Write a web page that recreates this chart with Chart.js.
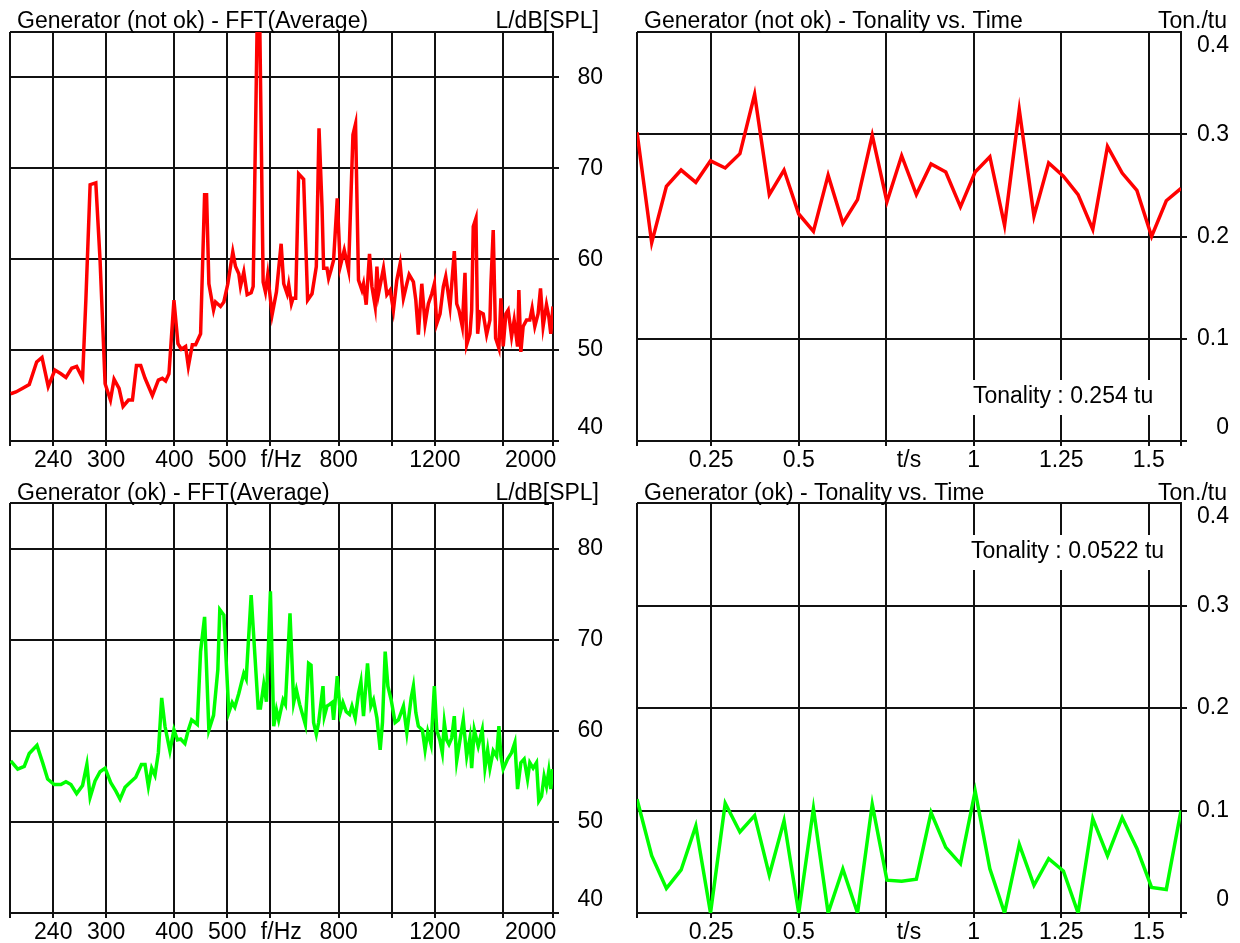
<!DOCTYPE html>
<html>
<head>
<meta charset="utf-8">
<title>Generator - FFT and Tonality</title>
<script src="https://cdn.jsdelivr.net/npm/chart.js@4.4.1/dist/chart.umd.min.js"></script>
<style>
  html, body { margin: 0; padding: 0; background: #fff; }
  #wrap { position: relative; width: 1240px; height: 943px; }
  canvas { position: absolute; }
</style>
</head>
<body>
<div id="wrap">
  <canvas id="fftNotOk" width="620" height="470" style="left:0;top:0"></canvas>
  <canvas id="tonNotOk" width="620" height="470" style="left:620px;top:0"></canvas>
  <canvas id="fftOk" width="620" height="473" style="left:0;top:470px"></canvas>
  <canvas id="tonOk" width="620" height="473" style="left:620px;top:470px"></canvas>
</div>
<script>
// --- FFT (Average), generator not ok: frequency in Hz, level in dB[SPL]
const fftFreqNotOk = [200.6, 205.1, 211.0, 216.9, 223.8, 228.9, 235.0, 241.7, 247.9, 253.2,
  259.4, 264.9, 271.6, 275.4, 280.4, 287.2, 292.4, 298.7, 305.5, 310.2,
  316.8, 322.2, 329.6, 335.2, 340.9, 347.1, 353.5, 364.6, 373.9, 380.3,
  385.6, 391.0, 399.3, 406.1, 411.9, 419.4, 424.3, 431.5, 437.5, 446.8,
  454.4, 458.2, 462.7, 471.9, 475.9, 486.0, 492.8, 501.2, 511.8, 517.7,
  524.9, 528.7, 536.1, 543.8, 553.0, 557.7, 567.2, 573.4, 581.7, 587.3,
  593.0, 604.1, 615.2, 627.5, 634.4, 643.5, 647.8, 655.3, 659.9, 667.2,
  675.6, 690.0, 701.7, 714.8, 727.9, 736.2, 745.6, 750.7, 761.4, 766.6,
  774.4, 782.9, 795.1, 805.2, 818.9, 833.9, 849.5, 858.9, 869.6, 882.2,
  888.2, 898.3, 910.9, 920.2, 933.0, 939.8, 946.1, 966.2, 980.1, 993.8,
  1007.7, 1022.2, 1036.5, 1051.0, 1066.2, 1076.6, 1096.2, 1107.4, 1119.4, 1135.6,
  1151.5, 1167.6, 1184.5, 1197.5, 1209.6, 1226.5, 1243.7, 1256.3, 1266.9, 1279.2,
  1302.6, 1315.8, 1328.6, 1347.1, 1362.6, 1372.5, 1391.5, 1401.5, 1411.0, 1427.1,
  1437.4, 1451.3, 1471.6, 1492.8, 1513.7, 1520.1, 1534.9, 1550.5, 1572.1, 1585.4,
  1600.8, 1619.1, 1634.8, 1658.5, 1676.7, 1700.8, 1710.1, 1724.5, 1741.3, 1766.4,
  1791.1, 1808.5, 1829.2, 1854.7, 1873.7, 1894.3, 1921.5, 1940.2, 1956.6, 1975.0];
const fftLevelNotOk = [45.2, 45.4, 45.8, 46.2, 48.7, 49.2, 46.0, 47.8, 47.4, 47.0,
  48.0, 48.2, 46.9, 55.5, 68.2, 68.4, 59.9, 46.3, 44.5, 46.8,
  45.8, 43.8, 44.5, 44.5, 48.3, 48.3, 46.9, 45.0, 46.7, 46.9,
  46.6, 47.4, 55.5, 50.7, 50.1, 50.4, 48.2, 50.6, 50.6, 51.8,
  67.1, 67.1, 57.3, 54.4, 55.3, 54.8, 55.3, 57.3, 60.8, 59.2,
  58.4, 57.0, 58.6, 56.1, 56.3, 57.0, 86.0, 86.0, 57.5, 56.4,
  58.3, 53.9, 56.4, 61.7, 57.3, 56.2, 57.2, 55.1, 55.7, 55.7,
  69.4, 68.8, 55.5, 56.2, 59.2, 74.4, 65.8, 59.0, 59.0, 57.9,
  58.8, 59.9, 66.7, 59.2, 61.0, 58.8, 73.7, 74.9, 57.7, 56.6,
  57.3, 55.0, 60.6, 57.0, 54.8, 59.2, 56.2, 59.0, 56.1, 56.6,
  54.4, 57.7, 59.5, 55.7, 57.3, 58.3, 57.5, 55.5, 51.7, 57.3,
  52.9, 55.1, 56.2, 57.3, 52.9, 54.0, 57.0, 58.1, 56.6, 54.8,
  60.9, 55.1, 54.4, 52.6, 58.5, 50.6, 51.8, 54.4, 63.6, 64.5,
  51.8, 54.2, 54.0, 51.7, 53.3, 57.3, 63.2, 51.3, 50.2, 55.7,
  50.4, 54.0, 54.4, 51.5, 53.3, 50.4, 56.6, 49.8, 52.6, 53.3,
  53.3, 54.6, 52.6, 54.0, 56.8, 52.6, 55.0, 53.7, 51.8, 54.8];

// --- FFT (Average), generator ok
const fftFreqOk = [200.6, 206.6, 212.4, 216.9, 224.1, 229.5, 234.4, 241.0, 247.9, 253.2,
  258.6, 264.9, 271.6, 276.6, 280.4, 286.3, 292.4, 298.7, 305.9, 312.4,
  318.1, 324.9, 331.4, 339.9, 348.1, 353.5, 358.5, 363.5, 368.6, 373.9,
  379.2, 384.5, 392.6, 399.3, 405.1, 410.7, 418.2, 424.3, 430.2, 434.4,
  440.6, 446.8, 454.4, 462.7, 471.9, 480.5, 484.5, 492.8, 503.3, 510.5,
  516.2, 524.9, 536.1, 541.5, 553.0, 569.6, 575.1, 583.2, 589.8, 599.8,
  608.2, 615.2, 621.1, 632.7, 638.9, 651.4, 661.6, 669.2, 678.5, 695.0,
  704.6, 711.8, 719.6, 727.9, 735.0, 748.7, 752.9, 761.4, 769.8, 777.7,
  782.9, 795.1, 805.2, 814.4, 825.8, 837.4, 845.9, 857.8, 869.6, 878.5,
  888.2, 903.3, 916.3, 926.4, 939.8, 952.9, 962.1, 973.2, 984.3, 998.0,
  1014.9, 1029.1, 1040.9, 1051.0, 1066.2, 1085.7, 1096.2, 1107.4, 1119.4, 1138.4,
  1151.5, 1164.7, 1181.0, 1197.5, 1209.6, 1226.5, 1238.4, 1248.9, 1261.5, 1273.8,
  1288.4, 1302.6, 1315.8, 1334.2, 1352.9, 1372.5, 1391.5, 1401.5, 1417.0, 1440.9,
  1465.4, 1482.2, 1499.2, 1513.7, 1534.9, 1557.1, 1572.1, 1585.4, 1600.8, 1630.8,
  1658.5, 1681.6, 1700.8, 1724.5, 1748.7, 1773.9, 1791.1, 1816.2, 1842.3, 1860.2,
  1881.6, 1902.3, 1921.5, 1940.2, 1956.6, 1970.6];
const fftLevelOk = [56.7, 55.8, 56.1, 57.5, 58.4, 56.5, 54.7, 54.1, 54.1, 54.4,
  54.1, 53.1, 54.0, 56.3, 52.7, 54.5, 55.5, 55.9, 54.3, 53.4,
  52.5, 53.8, 54.3, 54.9, 56.3, 56.3, 53.9, 55.9, 55.1, 57.6,
  63.6, 60.5, 57.8, 60.1, 59.0, 59.1, 58.6, 60.1, 61.2, 61.0,
  60.7, 68.7, 72.5, 60.1, 61.7, 66.7, 73.3, 72.7, 62.0, 63.1,
  62.6, 64.1, 66.3, 65.7, 74.9, 62.5, 62.5, 65.1, 63.2, 75.3,
  60.5, 62.3, 61.2, 63.4, 62.9, 72.9, 63.1, 64.5, 62.9, 60.7,
  67.4, 67.2, 60.9, 59.6, 60.9, 64.9, 61.6, 62.7, 62.9, 63.1,
  61.2, 66.0, 62.0, 63.1, 62.1, 61.8, 62.7, 61.4, 64.1, 65.4,
  61.6, 67.4, 62.7, 63.4, 61.4, 57.9, 60.9, 68.7, 64.9, 63.4,
  60.9, 61.2, 62.0, 62.7, 59.8, 63.6, 64.9, 62.0, 60.5, 60.1,
  57.9, 59.9, 58.5, 64.9, 60.1, 58.9, 57.6, 60.9, 59.0, 58.5,
  59.2, 61.6, 56.7, 59.0, 61.2, 57.2, 59.2, 55.9, 60.1, 58.3,
  60.1, 55.9, 57.9, 55.9, 57.8, 57.2, 60.5, 57.2, 55.8, 56.9,
  57.6, 58.7, 53.6, 56.5, 56.9, 54.7, 56.5, 55.9, 56.5, 52.3,
  52.8, 55.0, 53.9, 55.6, 53.6, 55.8];

// --- Tonality vs. time (s, tu)
const tonTime = [0.038, 0.080, 0.122, 0.164, 0.206, 0.248, 0.290, 0.332, 0.374, 0.416,
  0.458, 0.500, 0.542, 0.584, 0.626, 0.668, 0.710, 0.752, 0.794, 0.836,
  0.878, 0.920, 0.962, 1.004, 1.046, 1.088, 1.130, 1.172, 1.214, 1.256,
  1.298, 1.340, 1.382, 1.424, 1.466, 1.508, 1.550, 1.592];
const tonNotOk = [0.302, 0.194, 0.249, 0.265, 0.253, 0.274, 0.267, 0.281, 0.339, 0.241,
  0.265, 0.222, 0.205, 0.260, 0.213, 0.236, 0.299, 0.234, 0.279, 0.241,
  0.271, 0.263, 0.229, 0.263, 0.278, 0.211, 0.324, 0.220, 0.272, 0.259,
  0.241, 0.207, 0.288, 0.262, 0.245, 0.200, 0.235, 0.247];
const tonOk = [0.111, 0.056, 0.024, 0.042, 0.085, 0.000, 0.107, 0.079, 0.095, 0.037,
  0.090, 0.000, 0.102, 0.000, 0.043, 0.000, 0.106, 0.032, 0.031, 0.033,
  0.098, 0.064, 0.048, 0.119, 0.043, 0.000, 0.067, 0.027, 0.053, 0.041,
  0.000, 0.092, 0.056, 0.093, 0.063, 0.025, 0.023, 0.100];

// --- axis ticks and labels
const fftTickValues = [200, 240, 300, 400, 500, 600, 628, 800, 1000, 1200, 1600, 1975];
const fftTickLabels = ['', '240', '300', '400', '500', '', 'f/Hz', '800', '', '1200', '', '2000       '];
const fftLabelOnly = [628];
const levelTickValues = [40, 50, 60, 70, 80, 85];
const levelTickLabels = ['40', '50', '60', '70', '80', ''];
const timeTickValues = [0.038, 0.25, 0.5, 0.75, 0.815, 1, 1.25, 1.5, 1.592];
const timeTickLabels = ['', '0.25', '0.5', '', 't/s', '1', '1.25', '1.5', ''];
const timeLabelOnly = [0.815];
const tonTickValues = [0, 0.1, 0.2, 0.3, 0.4];
const tonTickLabels = ['0', '0.1', '0.2', '0.3', '0.4'];

const RED = '#ff0000';
const GREEN = '#00ff00';
const BLACK = '#111';
const CLEAR = 'rgba(0,0,0,0)';
const FONT = '23px "Liberation Sans", Arial, sans-serif';

Chart.defaults.font.family = '"Liberation Sans", Arial, sans-serif';
Chart.defaults.font.size = 23;
Chart.defaults.color = '#000';

// titles, unit and the tonality box
const panelText = {
    id: 'panelText',
    beforeDatasetsDraw(chart, args, o) {
        if (!o.note) return;
        const ctx = chart.ctx;
        ctx.save();
        ctx.font = FONT;
        const w = ctx.measureText(o.note).width;
        ctx.fillStyle = '#fff';
        ctx.fillRect(o.noteX - 3, o.noteY - 17, w + 6, 35);
        ctx.fillStyle = '#000';
        ctx.textBaseline = 'middle';
        ctx.textAlign = 'left';
        ctx.fillText(o.note, o.noteX, o.noteY);
        ctx.restore();
    },
    afterDraw(chart, args, o) {
        const ctx = chart.ctx;
        ctx.save();
        ctx.font = FONT;
        ctx.fillStyle = '#000';
        ctx.textBaseline = 'alphabetic';
        ctx.textAlign = 'left';
        ctx.fillText(o.title, o.titleX, o.titleY);
        ctx.textAlign = 'right';
        ctx.fillText(o.unit, o.unitX, o.titleY);
        ctx.restore();
    }
};

const makePanel = (id, p) => {
    const canvas = document.getElementById(id);
    const points = p.xs.map((x, i) => ({ x: x, y: p.ys[i] }));
    const yLast = p.yTicks.length - 1;
    const yMax = p.yTicks[yLast];
    const labelOnly = (c) => c.tick && p.xLabelOnly.includes(c.tick.value);

    return new Chart(canvas, {
        type: 'line',
        data: {
            datasets: [{
                data: points,
                borderColor: p.color,
                borderWidth: 3.5,
                pointRadius: 0,
                tension: 0,
                fill: false
            }]
        },
        options: {
            responsive: false,
            animation: false,
            devicePixelRatio: 1,
            events: [],
            // labels on the right are right-aligned at the canvas edge minus this padding
            layout: { padding: { left: p.padLeft, top: p.padTop, right: canvas.width - p.labelRight, bottom: 0 } },
            plugins: {
                legend: { display: false },
                tooltip: { enabled: false },
                panelText: p.text
            },
            scales: {
                x: {
                    type: p.xType,
                    min: p.xTicks[0],
                    max: p.xTicks[p.xTicks.length - 1],
                    afterBuildTicks: (s) => { s.ticks = p.xTicks.map(v => ({ value: v })); },
                    afterFit: (s) => { s.height = canvas.height - p.plotBottom; },
                    grid: {
                        color: (c) => labelOnly(c) ? CLEAR : BLACK,
                        tickColor: (c) => labelOnly(c) ? CLEAR : BLACK,
                        lineWidth: 2,
                        tickLength: 5
                    },
                    border: { color: BLACK, width: 2 },
                    ticks: {
                        autoSkip: false,
                        maxRotation: 0,
                        minRotation: 0,
                        padding: 1,
                        font: { size: 23, lineHeight: 1.15 },
                        callback: (v, i) => p.xLabels[i]
                    }
                },
                y: {
                    position: 'right',
                    min: p.yTicks[0],
                    max: yMax,
                    afterBuildTicks: (s) => { s.ticks = p.yTicks.map(v => ({ value: v })); },
                    afterFit: (s) => { s.width = p.labelRight - p.plotRight; },
                    grid: {
                        color: BLACK,
                        tickColor: (c) => (c.tick && c.tick.value === yMax) ? CLEAR : BLACK,
                        lineWidth: 2,
                        tickLength: 6
                    },
                    border: { color: BLACK, width: 2 },
                    ticks: {
                        crossAlign: 'far',
                        padding: 0,
                        font: { size: 23, lineHeight: 1.15 },
                        callback: (v, i) => {
                            const lab = p.yLabels[i];
                            if (!lab) return '';
                            // keep the end labels inside the frame
                            if (i === 0) return [lab, ''];
                            if (i === yLast) return ['', lab];
                            return lab;
                        }
                    }
                }
            }
        },
        plugins: [panelText]
    });
};

const fftPanel = {
    xType: 'logarithmic',
    xTicks: fftTickValues, xLabels: fftTickLabels, xLabelOnly: fftLabelOnly,
    yTicks: levelTickValues, yLabels: levelTickLabels,
    padLeft: 10, plotRight: 553, labelRight: 603
};
const tonPanel = {
    xType: 'linear',
    xTicks: timeTickValues, xLabels: timeTickLabels, xLabelOnly: timeLabelOnly,
    yTicks: tonTickValues, yLabels: tonTickLabels,
    padLeft: 17, plotRight: 561, labelRight: 609
};

makePanel('fftNotOk', Object.assign({}, fftPanel, {
    xs: fftFreqNotOk, ys: fftLevelNotOk, color: RED,
    padTop: 32, plotBottom: 441,
    text: { title: 'Generator (not ok) - FFT(Average)', titleX: 17, titleY: 28, unit: 'L/dB[SPL]', unitX: 599 }
}));
makePanel('tonNotOk', Object.assign({}, tonPanel, {
    xs: tonTime, ys: tonNotOk, color: RED,
    padTop: 32, plotBottom: 441,
    text: { title: 'Generator (not ok) - Tonality vs. Time', titleX: 24, titleY: 28, unit: 'Ton./tu', unitX: 607,
            note: 'Tonality : 0.254 tu', noteX: 353, noteY: 397 }
}));
makePanel('fftOk', Object.assign({}, fftPanel, {
    xs: fftFreqOk, ys: fftLevelOk, color: GREEN,
    padTop: 33, plotBottom: 443,
    text: { title: 'Generator (ok) - FFT(Average)', titleX: 17, titleY: 30, unit: 'L/dB[SPL]', unitX: 599 }
}));
makePanel('tonOk', Object.assign({}, tonPanel, {
    xs: tonTime, ys: tonOk, color: GREEN,
    padTop: 33, plotBottom: 443,
    text: { title: 'Generator (ok) - Tonality vs. Time', titleX: 24, titleY: 30, unit: 'Ton./tu', unitX: 607,
            note: 'Tonality : 0.0522 tu', noteX: 351, noteY: 82 }
}));
</script>
</body>
</html>
